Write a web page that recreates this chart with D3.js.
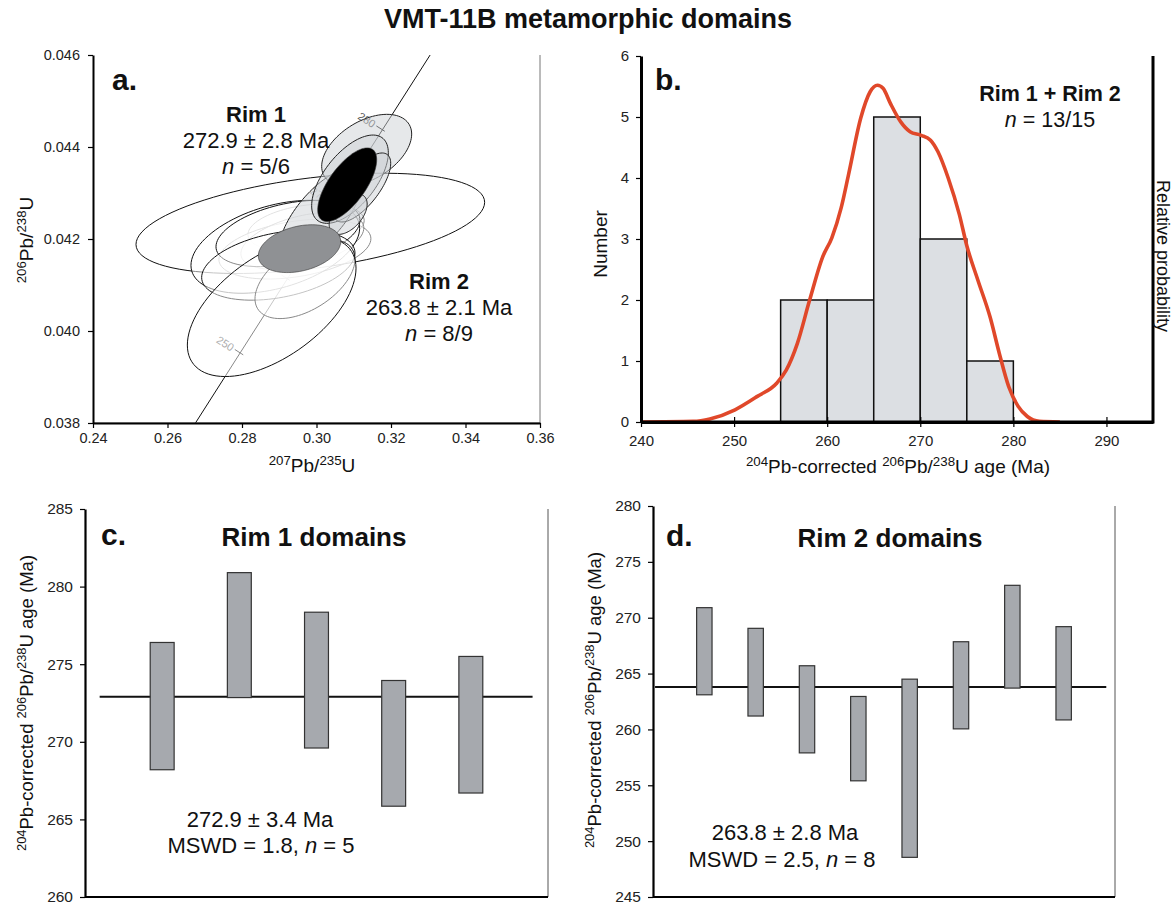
<!DOCTYPE html>
<html lang="en">
<head>
<meta charset="utf-8">
<style>
  body { margin: 0; background: #fff; }
  svg text { font-family: "Liberation Sans", Arial, sans-serif; fill: #111; }
</style>
</head>
<body>
<svg id="fig" width="1175" height="904"></svg>
<script src="https://d3js.org/d3.v7.min.js"></script>
<script>
// ---- panel a: concordia data (207Pb/235U, 206Pb/238U, half-widths, rho) ----
var rim1X   = [0.30113, 0.31347, 0.30899, 0.31222, 0.3085];
var rim1SX  = [0.01109, 0.01208, 0.01029, 0.0077, 0.0051];
var rim1Y   = [0.04252, 0.04393, 0.0433, 0.04312, 0.04254];
var rim1SY  = [0.00101, 0.00078, 0.00096, 0.00075, 0.00044];
var rim1Rho = [0.70, 0.45, 0.60, 0.70, 0.50];

var rim2X   = [0.2972, 0.2942, 0.2962, 0.29834, 0.28894, 0.29235, 0.28975, 0.29691, 0.28797];
var rim2SX  = [0.0156, 0.0204, 0.0165, 0.0468, 0.02264, 0.01933, 0.02058, 0.01342, 0.02264];
var rim2Y   = [0.04225, 0.04178, 0.04196, 0.04234, 0.04183, 0.04212, 0.04143, 0.04113, 0.04053];
var rim2SY  = [0.00051, 0.00065, 0.00062, 0.00109, 0.00101, 0.00072, 0.00076, 0.00086, 0.00152];
var rim2Rho = [0.30, 0.35, 0.45, 0.42, 0.40, 0.40, 0.35, 0.50, 0.55];

// weighted means: rim 1 (black), rim 2 (grey)
var meanX   = [0.30824, 0.29544];
var meanSX  = [0.00792, 0.01106];
var meanY   = [0.04318, 0.04179];
var meanSY  = [0.00080, 0.00052];
var meanRho = [0.68, 0.30];

// concordia line and age ticks
var conLineX = [0.2675, 0.3305];
var conLineY = [0.038, 0.046];
var conAge = [250, 260, 270, 280];
var conX   = [0.2792, 0.2917, 0.3044, 0.3172];
var conY   = [0.03954, 0.04116, 0.04278, 0.04440];
var conLabelled = [250, 270, 280];

// ---- panel b: histogram + probability curve ----
var binStart = [255, 260, 265, 270, 275];
var binCount = [2, 2, 5, 3, 1];
var probAge = [240, 245.6, 247.4, 250.1, 252.5, 254.6, 255.6, 256.8, 258.1, 259.5, 260.5, 261.5, 262.3, 263.6, 264.6, 265.4, 266.0, 266.8, 267.9, 268.9, 270.1, 271.1, 271.9, 273.0, 274.2, 275.0, 276.2, 277.5, 278.5, 279.5, 280.5, 281.5, 282.8, 285];
var probVal = [0, 0.01, 0.05, 0.2, 0.42, 0.64, 0.85, 1.29, 1.99, 2.70, 3.02, 3.51, 4.06, 4.98, 5.41, 5.52, 5.47, 5.22, 4.92, 4.76, 4.70, 4.62, 4.43, 4.0, 3.4, 2.89, 2.32, 1.72, 1.12, 0.58, 0.26, 0.09, 0.01, 0];

// ---- panels c, d: individual domain ages (2 sigma boxes) ----
var rim1Lo = [268.2, 272.85, 269.6, 265.85, 266.7];
var rim1Hi = [276.4, 280.9, 278.35, 273.95, 275.5];
var rim1Mean = 272.9;
var rim2Lo = [263.1, 261.2, 257.9, 255.4, 248.55, 260.05, 263.7, 260.85];
var rim2Hi = [270.9, 269.05, 265.7, 262.95, 264.5, 267.85, 272.9, 269.2];
var rim2Mean = 263.8;

var svg = d3.select("#fig");

// text with superscripts / italics: parts = [[text, "sup"|"it"|""], ...]
function rich(sel, parts, size) {
    var up = size * 0.38, raised = false;
    parts.forEach(function (p) {
        var ts = sel.append("tspan").text(p[0]);
        if (p[1] == "sup") {
            ts.attr("font-size", size * 0.7);
            if (!raised) { ts.attr("dy", -up); raised = true; }
        } else {
            if (raised) { ts.attr("dy", up); raised = false; }
            if (p[1] == "it") ts.attr("font-style", "italic");
        }
    });
    return sel;
}
function label(x, y, parts, size, opts) {
    opts = opts || {};
    var t = svg.append("text")
        .attr("x", x).attr("y", y)
        .attr("font-size", size)
        .attr("text-anchor", opts.anchor || "middle")
        .attr("font-weight", opts.bold ? "bold" : null);
    if (opts.rotate) t.attr("transform", "rotate(" + opts.rotate + "," + x + "," + y + ")");
    return rich(t, parts, size);
}
function frame(x0, x1, y0, y1, col, w) {
    svg.append("path")
        .attr("d", "M" + x0 + "," + y1 + "H" + x1 + "V" + y0)
        .attr("fill", "none").attr("stroke", col).attr("stroke-width", w);
}
function styleAxis(g, size, thick) {
    g.selectAll("text").attr("font-size", size).style("fill", "#222");
    g.select(".domain").attr("stroke", "#000").attr("stroke-width", thick);
    g.selectAll(".tick line").attr("stroke", "#000").attr("stroke-width", 1.2);
}

// title
label(588, 28, [["VMT-11B metamorphic domains", ""]], 27, { bold: true });

// ================= panel a =================
var xA = d3.scaleLinear().domain([0.24, 0.36]).range([93, 540]);
var yA = d3.scaleLinear().domain([0.038, 0.046]).range([423, 55]);

svg.append("clipPath").attr("id", "clipA").append("rect")
    .attr("x", 93).attr("y", 55).attr("width", 447).attr("height", 368);
var gA = svg.append("g").attr("clip-path", "url(#clipA)");

frame(93, 540, 55, 423, "#777", 1);

// concordia
gA.append("line")
    .attr("x1", xA(conLineX[0])).attr("y1", yA(conLineY[0]))
    .attr("x2", xA(conLineX[1])).attr("y2", yA(conLineY[1]))
    .attr("stroke", "#111").attr("stroke-width", 1);
var cdx = xA(conLineX[1]) - xA(conLineX[0]), cdy = yA(conLineY[1]) - yA(conLineY[0]);
var clen = Math.sqrt(cdx * cdx + cdy * cdy);
var px = -cdy / clen, py = cdx / clen; // perpendicular (pointing right/down)
var tickAng = Math.atan2(py, px) * 180 / Math.PI;
conAge.forEach(function (a, i) {
    var cx = xA(conX[i]), cy = yA(conY[i]);
    gA.append("line")
        .attr("x1", cx - px * 5).attr("y1", cy - py * 5)
        .attr("x2", cx + px * 5).attr("y2", cy + py * 5)
        .attr("stroke", "#111").attr("stroke-width", 1);
    if (conLabelled.indexOf(a) >= 0) {
        var lx = cx - px * 7, ly = cy - py * 7;
        gA.append("text").attr("x", lx).attr("y", ly + 4)
            .attr("text-anchor", "end").attr("font-size", 11)
            .style("fill", "#555")
            .attr("transform", "rotate(" + tickAng + "," + lx + "," + ly + ")")
            .text(a);
    }
});

function ellipse(cx, sx, cy, sy, rho) {
    var pts = d3.range(0, 97).map(function (k) {
        var t = k / 96 * 2 * Math.PI;
        return [xA(cx + sx * Math.cos(t)),
                yA(cy + sy * (rho * Math.cos(t) + Math.sqrt(1 - rho * rho) * Math.sin(t)))];
    });
    return d3.line().curve(d3.curveLinearClosed)(pts);
}

rim2X.forEach(function (v, i) {
    gA.append("path").attr("d", ellipse(v, rim2SX[i], rim2Y[i], rim2SY[i], rim2Rho[i]))
        .attr("fill", "#fff").attr("fill-opacity", 0.5)
        .attr("stroke", "#111").attr("stroke-width", 1);
});
rim1X.forEach(function (v, i) {
    gA.append("path").attr("d", ellipse(v, rim1SX[i], rim1Y[i], rim1SY[i], rim1Rho[i]))
        .attr("fill", "#cdd1d6").attr("fill-opacity", 0.5)
        .attr("stroke", "#222").attr("stroke-width", 1);
});
var meanFill = ["#000", "#8f9194"];
meanX.forEach(function (v, i) {
    gA.append("path").attr("d", ellipse(v, meanSX[i], meanY[i], meanSY[i], meanRho[i]))
        .attr("fill", meanFill[i]).attr("stroke", "#333").attr("stroke-width", 0.6);
});

var axA = svg.append("g").attr("transform", "translate(0,423)")
    .call(d3.axisBottom(xA).tickValues(d3.range(0.24, 0.3601, 0.02)).tickFormat(d3.format(".2f"))
        .tickSize(5).tickPadding(5).tickSizeOuter(0));
styleAxis(axA, 14.5, 2);
var ayA = svg.append("g").attr("transform", "translate(93,0)")
    .call(d3.axisLeft(yA).tickValues(d3.range(0.038, 0.04601, 0.002)).tickFormat(d3.format(".3f"))
        .tickSize(5).tickPadding(8).tickSizeOuter(0));
styleAxis(ayA, 14.5, 2);

label(112, 90, [["a.", ""]], 30, { bold: true, anchor: "start" });
label(256, 122, [["Rim 1", ""]], 22, { bold: true });
label(256, 148, [["272.9 ± 2.8 Ma", ""]], 22);
label(256, 174, [["n", "it"], [" = 5/6", ""]], 22);
label(439, 289, [["Rim 2", ""]], 22, { bold: true });
label(439, 315, [["263.8 ± 2.1 Ma", ""]], 22);
label(439, 341, [["n", "it"], [" = 8/9", ""]], 22);

label(312, 472, [["207", "sup"], ["Pb/", ""], ["235", "sup"], ["U", ""]], 19);
label(33, 240, [["206", "sup"], ["Pb/", ""], ["238", "sup"], ["U", ""]], 19, { rotate: -90 });

// ================= panel b =================
var xB = d3.scaleLinear().domain([240, 295]).range([641, 1153]);
var yB = d3.scaleLinear().domain([0, 6]).range([422, 56]);

svg.append("g").selectAll("rect").data(binStart).enter().append("rect")
    .attr("x", function (d) { return xB(d); })
    .attr("width", function (d) { return xB(d + 5) - xB(d); })
    .attr("y", function (d, i) { return yB(binCount[i]); })
    .attr("height", function (d, i) { return yB(0) - yB(binCount[i]); })
    .attr("fill", "#dcdfe3").attr("stroke", "#111").attr("stroke-width", 1.5);

svg.append("path")
    .attr("d", d3.line().curve(d3.curveMonotoneX)
        .x(function (d, i) { return xB(probAge[i]); })
        .y(function (d, i) { return yB(probVal[i]); })(probAge))
    .attr("fill", "none").attr("stroke", "#e0482a").attr("stroke-width", 3.6)
    .attr("stroke-linejoin", "round");

frame(641, 1153, 56, 422, "#000", 3);
var axB = svg.append("g").attr("transform", "translate(0,422)")
    .call(d3.axisBottom(xB).tickValues(d3.range(240, 291, 10)).tickSize(5).tickPadding(8).tickSizeOuter(0));
axB.selectAll(".tick line").attr("y1", -5);
styleAxis(axB, 15, 3);
var ayB = svg.append("g").attr("transform", "translate(641,0)")
    .call(d3.axisLeft(yB).ticks(6).tickSize(5).tickPadding(7).tickSizeOuter(0));
styleAxis(ayB, 15, 3);

label(655, 90, [["b.", ""]], 30, { bold: true, anchor: "start" });
label(1050, 101, [["Rim 1 + Rim 2", ""]], 21.5, { bold: true });
label(1050, 127, [["n", "it"], [" = 13/15", ""]], 21.5);
label(898, 473, [["204", "sup"], ["Pb-corrected ", ""], ["206", "sup"], ["Pb/", ""], ["238", "sup"], ["U age (Ma)", ""]], 19);
label(607, 244, [["Number", ""]], 19, { rotate: -90 });
label(1157, 256, [["Relative probability", ""]], 18, { rotate: 90 });

// ================= panels c, d =================
function domainPanel(lo, hi, mean, yDom, x0, x1, y0, y1, n, lineFrom, lineTo, barW) {
    var x = d3.scaleLinear().domain([0, n + 1]).range([x0, x1]);
    var y = d3.scaleLinear().domain(yDom).range([y1, y0]);
    frame(x0, x1, y0, y1, "#555", 1);
    svg.append("line")
        .attr("x1", x(lineFrom)).attr("x2", x(lineTo))
        .attr("y1", y(mean)).attr("y2", y(mean))
        .attr("stroke", "#111").attr("stroke-width", 2);
    var w = x(barW) - x(0);
    svg.append("g").selectAll("rect").data(lo).enter().append("rect")
        .attr("x", function (d, i) { return x(i + 1) - w / 2; })
        .attr("width", w)
        .attr("y", function (d, i) { return y(hi[i]); })
        .attr("height", function (d, i) { return y(lo[i]) - y(hi[i]); })
        .attr("fill", "#a6a9ae").attr("stroke", "#333").attr("stroke-width", 1.2);
    var ay = svg.append("g").attr("transform", "translate(" + x0 + ",0)")
        .call(d3.axisLeft(y).ticks(7).tickSize(5).tickPadding(7).tickSizeOuter(0));
    styleAxis(ay, 15.5, 2.2);
    svg.append("line").attr("x1", x0).attr("x2", x1).attr("y1", y1).attr("y2", y1)
        .attr("stroke", "#000").attr("stroke-width", 2.2);
    return x;
}

domainPanel(rim1Lo, rim1Hi, rim1Mean, [260, 285], 85, 548, 509, 897, 5, 0.19, 5.8, 0.31);
label(101, 545, [["c.", ""]], 30, { bold: true, anchor: "start" });
label(314, 546, [["Rim 1 domains", ""]], 26, { bold: true });
label(260, 827, [["272.9 ± 3.4 Ma", ""]], 22);
label(261, 853, [["MSWD = 1.8, ", ""], ["n", "it"], [" = 5", ""]], 22);
label(33, 703, [["204", "sup"], ["Pb-corrected ", ""], ["206", "sup"], ["Pb/", ""], ["238", "sup"], ["U age (Ma)", ""]], 18.5, { rotate: -90 });

domainPanel(rim2Lo, rim2Hi, rim2Mean, [245, 280], 653, 1115, 506, 897, 8, 0.04, 8.83, 0.30);
label(666, 546, [["d.", ""]], 30, { bold: true, anchor: "start" });
label(890, 547, [["Rim 2 domains", ""]], 26, { bold: true });
label(785, 840, [["263.8 ± 2.8 Ma", ""]], 22);
label(782, 867, [["MSWD = 2.5, ", ""], ["n", "it"], [" = 8", ""]], 22);
label(601, 700, [["204", "sup"], ["Pb-corrected ", ""], ["206", "sup"], ["Pb/", ""], ["238", "sup"], ["U age (Ma)", ""]], 18.5, { rotate: -90 });
</script>
</body>
</html>
